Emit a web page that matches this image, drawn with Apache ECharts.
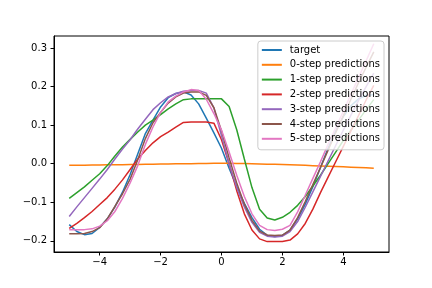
<!DOCTYPE html>
<html>
<head>
<meta charset="utf-8">
<script src="https://cdn.jsdelivr.net/npm/echarts@6/dist/echarts.min.js"></script>
<style>html,body{margin:0;padding:0;background:#fff}#c{width:432px;height:288px}</style>
</head>
<body>
<div id="c"></div>
<script>
const xs = [-5,-4.75,-4.5,-4.25,-4,-3.75,-3.5,-3.25,-3,-2.75,-2.5,-2.25,-2,-1.75,-1.5,-1.25,-1,-0.75,-0.5,-0.25,0,0.25,0.5,0.75,1,1.25,1.5,1.75,2,2.25,2.5,2.75,3,3.25,3.5,3.75,4,4.25,4.5,4.75,5];
const target = [-0.158,-0.176,-0.184,-0.181,-0.165,-0.143,-0.112,-0.074,-0.028,0.025,0.078,0.113,0.147,0.171,0.182,0.186,0.178,0.155,0.118,0.08,0.04,-0.012,-0.06,-0.103,-0.14,-0.17,-0.186,-0.189,-0.186,-0.172,-0.143,-0.105,-0.06,-0.01,0.04,0.085,0.122,0.15,0.168,0.177,0.179];
const step0 = [-0.004,-0.004,-0.0038,-0.0035,-0.0033,-0.003,-0.0028,-0.0025,-0.0022,-0.002,-0.0017,-0.0014,-0.0011,-0.0008,-0.0005,-0.0002,0.0001,0.0004,0.0007,0.0009,0.001,0.0009,0.0006,0.0002,-0.0002,-0.0007,-0.0012,-0.0018,-0.0024,-0.003,-0.0037,-0.0044,-0.0051,-0.0058,-0.0066,-0.0074,-0.0082,-0.009,-0.0099,-0.0108,-0.012];
const step1 = [-0.09,-0.075,-0.06,-0.043,-0.026,-0.005,0.02,0.043,0.063,0.082,0.1,0.113,0.127,0.142,0.155,0.166,0.168,0.168,0.168,0.168,0.168,0.148,0.088,0.012,-0.062,-0.118,-0.141,-0.146,-0.139,-0.126,-0.108,-0.085,-0.058,-0.03,0.0,0.03,0.06,0.087,0.113,0.14,0.166];
const step2 = [-0.168,-0.155,-0.14,-0.124,-0.106,-0.088,-0.066,-0.042,-0.015,0.012,0.034,0.054,0.07,0.082,0.095,0.107,0.108,0.108,0.108,0.105,0.062,0.0,-0.07,-0.13,-0.172,-0.195,-0.202,-0.202,-0.202,-0.198,-0.182,-0.155,-0.118,-0.075,-0.035,0.005,0.045,0.085,0.125,0.165,0.203];
const step3 = [-0.137,-0.112,-0.088,-0.064,-0.04,-0.015,0.012,0.038,0.062,0.09,0.115,0.14,0.158,0.173,0.182,0.188,0.19,0.19,0.183,0.145,0.072,0.0,-0.062,-0.112,-0.152,-0.178,-0.188,-0.19,-0.188,-0.176,-0.15,-0.113,-0.073,-0.033,0.007,0.047,0.087,0.126,0.164,0.2,0.235];
const step4 = [-0.182,-0.182,-0.181,-0.176,-0.166,-0.143,-0.111,-0.078,-0.04,0.01,0.065,0.106,0.133,0.157,0.173,0.183,0.186,0.186,0.177,0.145,0.085,0.015,-0.05,-0.105,-0.147,-0.175,-0.185,-0.186,-0.185,-0.172,-0.14,-0.098,-0.054,-0.01,0.035,0.08,0.124,0.167,0.21,0.25,0.29];
const step5 = [-0.171,-0.171,-0.171,-0.169,-0.162,-0.148,-0.124,-0.09,-0.05,-0.005,0.05,0.095,0.133,0.16,0.175,0.186,0.192,0.19,0.167,0.13,0.087,0.03,-0.03,-0.085,-0.13,-0.16,-0.171,-0.173,-0.17,-0.16,-0.125,-0.082,-0.038,0.005,0.05,0.093,0.136,0.18,0.223,0.267,0.311];
const names = ['target','0-step predictions','1-step predictions','2-step predictions','3-step predictions','4-step predictions','5-step predictions'];
const colors = ['#1f77b4','#ff7f0e','#2ca02c','#d62728','#9467bd','#8c564b','#e377c2'];
const xTicks = [-4,-2,0,2,4];
const yTicks = [-0.2,-0.1,0,0.1,0.2,0.3];

const allY = [target, step0, step1, step2, step3, step4, step5];
const fmtX = v => v < 0 ? '\u2212' + Math.abs(v) : String(v);
const fmtY = v => { const s = Math.abs(v).toFixed(1); return v < -1e-9 ? '\u2212' + s : s; };
const font = 'DejaVu Sans';

const chart = echarts.init(document.getElementById('c'), null, {renderer: 'canvas'});
chart.setOption({
  animation: false,
  backgroundColor: '#fff',
  color: colors,
  grid: {left: 54, right: 43, top: 36, bottom: 36, show: true, borderColor: '#000', borderWidth: 1, backgroundColor: 'transparent'},
  xAxis: {
    type: 'value', min: -5.5, max: 5.5,
    splitLine: {show: false},
    axisLine: {show: true, onZero: false, lineStyle: {color: '#000', width: 1}},
    axisTick: {show: true, customValues: xTicks, length: 3.5, lineStyle: {color: '#000', width: 1}},
    axisLabel: {customValues: xTicks, formatter: fmtX, color: '#000', fontSize: 10, fontFamily: font, margin: 5}
  },
  yAxis: {
    type: 'value', min: -0.229, max: 0.331,
    splitLine: {show: false},
    axisLine: {show: true, onZero: false, lineStyle: {color: '#000', width: 1}},
    axisTick: {show: true, customValues: yTicks, length: 3.5, lineStyle: {color: '#000', width: 1}},
    axisLabel: {customValues: yTicks, formatter: fmtY, color: '#000', fontSize: 10, fontFamily: font, margin: 7}
  },
  legend: {
    orient: 'vertical', right: 48, top: 41,
    icon: 'rect', itemWidth: 20, itemHeight: 2, itemGap: 2.8,
    padding: [3, 4, 5, 4],
    backgroundColor: 'rgba(255,255,255,0.8)', borderColor: '#ccc', borderWidth: 1, borderRadius: 3,
    textStyle: {fontSize: 10, fontFamily: font, color: '#000', lineHeight: 12, padding: [0, 0, 0, 3]},
    data: names
  },
  series: names.map((n, i) => ({
    name: n, type: 'line', showSymbol: false, symbol: 'none',
    lineStyle: {width: 1.5, color: colors[i]},
    itemStyle: {color: colors[i]},
    data: xs.map((x, j) => [x, allY[i][j]])
  }))
});
</script>
</body>
</html>
